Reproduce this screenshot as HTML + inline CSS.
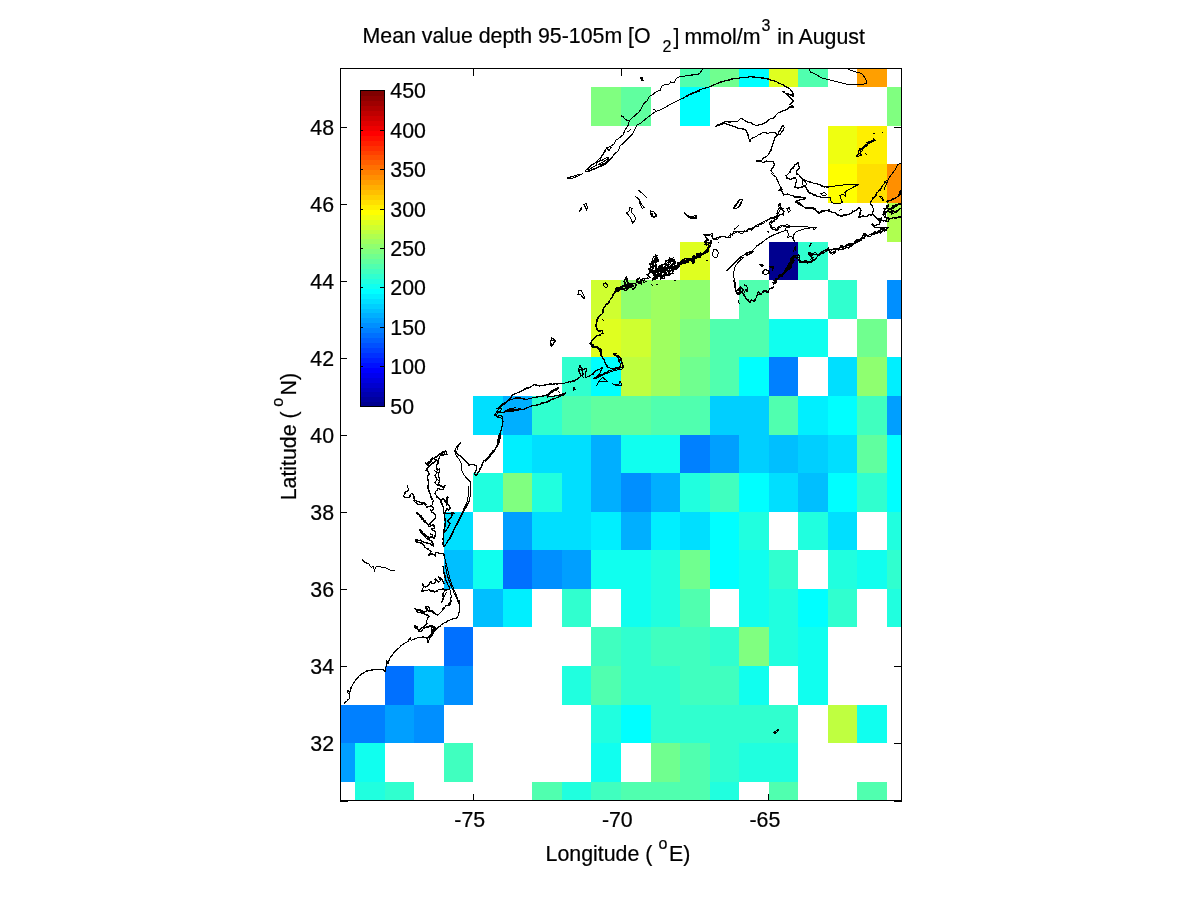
<!DOCTYPE html>
<html><head><meta charset="utf-8"><title>Mean value depth 95-105m O2 in August</title>
<style>
html,body{margin:0;padding:0;background:#fff;}
body{width:1200px;height:900px;overflow:hidden;}
svg{display:block;}
svg text{font-family:"Liberation Sans",Arial,Helvetica,sans-serif;font-size:21.33px;fill:#000;stroke:#000;stroke-width:0.22px;}
</style></head><body>
<svg width="1200" height="900" viewBox="0 0 1200 900">
<rect x="0" y="0" width="1200" height="900" fill="#fff"/>
<g stroke="#000" stroke-width="1" fill="none" shape-rendering="crispEdges">
<line x1="473.5" y1="800.5" x2="473.5" y2="793.5"/>
<line x1="473.5" y1="68.5" x2="473.5" y2="75.5"/>
<line x1="621.5" y1="800.5" x2="621.5" y2="793.5"/>
<line x1="621.5" y1="68.5" x2="621.5" y2="75.5"/>
<line x1="768.5" y1="800.5" x2="768.5" y2="793.5"/>
<line x1="768.5" y1="68.5" x2="768.5" y2="75.5"/>
<line x1="340.5" y1="743.5" x2="346.5" y2="743.5"/>
<line x1="901.5" y1="743.5" x2="893.5" y2="743.5"/>
<line x1="340.5" y1="666.5" x2="346.5" y2="666.5"/>
<line x1="901.5" y1="666.5" x2="893.5" y2="666.5"/>
<line x1="340.5" y1="589.5" x2="346.5" y2="589.5"/>
<line x1="901.5" y1="589.5" x2="893.5" y2="589.5"/>
<line x1="340.5" y1="512.5" x2="346.5" y2="512.5"/>
<line x1="901.5" y1="512.5" x2="893.5" y2="512.5"/>
<line x1="340.5" y1="435.5" x2="346.5" y2="435.5"/>
<line x1="901.5" y1="435.5" x2="893.5" y2="435.5"/>
<line x1="340.5" y1="358.5" x2="346.5" y2="358.5"/>
<line x1="901.5" y1="358.5" x2="893.5" y2="358.5"/>
<line x1="340.5" y1="281.5" x2="346.5" y2="281.5"/>
<line x1="901.5" y1="281.5" x2="893.5" y2="281.5"/>
<line x1="340.5" y1="204.5" x2="346.5" y2="204.5"/>
<line x1="901.5" y1="204.5" x2="893.5" y2="204.5"/>
<line x1="340.5" y1="127.5" x2="346.5" y2="127.5"/>
<line x1="901.5" y1="127.5" x2="893.5" y2="127.5"/>
<line x1="340" y1="801.5" x2="348" y2="801.5"/><line x1="894" y1="801.5" x2="902" y2="801.5"/>
</g>
<g shape-rendering="crispEdges">
<rect x="680" y="69" width="30" height="18" fill="#50ffaf"/>
<rect x="710" y="69" width="29" height="18" fill="#70ff8f"/>
<rect x="739" y="69" width="30" height="18" fill="#00ffff"/>
<rect x="769" y="69" width="29" height="18" fill="#dfff20"/>
<rect x="798" y="69" width="30" height="18" fill="#50ffaf"/>
<rect x="857" y="69" width="30" height="18" fill="#ff9f00"/>
<rect x="591" y="87" width="30" height="39" fill="#80ff80"/>
<rect x="621" y="87" width="30" height="39" fill="#60ff9f"/>
<rect x="680" y="87" width="30" height="39" fill="#00ffff"/>
<rect x="887" y="87" width="14" height="39" fill="#80ff80"/>
<rect x="828" y="126" width="29" height="38" fill="#efff10"/>
<rect x="857" y="126" width="30" height="38" fill="#ffef00"/>
<rect x="828" y="164" width="29" height="39" fill="#ffff00"/>
<rect x="857" y="164" width="30" height="39" fill="#ffdf00"/>
<rect x="887" y="164" width="14" height="39" fill="#ff8f00"/>
<rect x="887" y="203" width="14" height="39" fill="#afff50"/>
<rect x="680" y="242" width="30" height="38" fill="#dfff20"/>
<rect x="769" y="242" width="29" height="38" fill="#00008f"/>
<rect x="798" y="242" width="30" height="38" fill="#30ffcf"/>
<rect x="591" y="280" width="30" height="39" fill="#cfff30"/>
<rect x="621" y="280" width="30" height="39" fill="#8fff70"/>
<rect x="651" y="280" width="29" height="39" fill="#9fff60"/>
<rect x="680" y="280" width="30" height="39" fill="#8fff70"/>
<rect x="739" y="280" width="30" height="39" fill="#50ffaf"/>
<rect x="828" y="280" width="29" height="39" fill="#30ffcf"/>
<rect x="887" y="280" width="14" height="39" fill="#008fff"/>
<rect x="591" y="319" width="30" height="38" fill="#dfff20"/>
<rect x="621" y="319" width="30" height="38" fill="#cfff30"/>
<rect x="651" y="319" width="29" height="38" fill="#9fff60"/>
<rect x="680" y="319" width="30" height="38" fill="#80ff80"/>
<rect x="710" y="319" width="29" height="38" fill="#50ffaf"/>
<rect x="739" y="319" width="30" height="38" fill="#50ffaf"/>
<rect x="769" y="319" width="29" height="38" fill="#10ffef"/>
<rect x="798" y="319" width="30" height="38" fill="#10ffef"/>
<rect x="857" y="319" width="30" height="38" fill="#70ff8f"/>
<rect x="562" y="357" width="29" height="39" fill="#30ffcf"/>
<rect x="591" y="357" width="30" height="39" fill="#00ffff"/>
<rect x="621" y="357" width="30" height="39" fill="#bfff40"/>
<rect x="651" y="357" width="29" height="39" fill="#9fff60"/>
<rect x="680" y="357" width="30" height="39" fill="#70ff8f"/>
<rect x="710" y="357" width="29" height="39" fill="#50ffaf"/>
<rect x="739" y="357" width="30" height="39" fill="#00ffff"/>
<rect x="769" y="357" width="29" height="39" fill="#0080ff"/>
<rect x="828" y="357" width="29" height="39" fill="#00dfff"/>
<rect x="857" y="357" width="30" height="39" fill="#8fff70"/>
<rect x="887" y="357" width="14" height="39" fill="#00efff"/>
<rect x="473" y="396" width="30" height="39" fill="#00dfff"/>
<rect x="503" y="396" width="29" height="39" fill="#00afff"/>
<rect x="532" y="396" width="30" height="39" fill="#30ffcf"/>
<rect x="562" y="396" width="29" height="39" fill="#50ffaf"/>
<rect x="591" y="396" width="30" height="39" fill="#60ff9f"/>
<rect x="621" y="396" width="30" height="39" fill="#60ff9f"/>
<rect x="651" y="396" width="29" height="39" fill="#50ffaf"/>
<rect x="680" y="396" width="30" height="39" fill="#50ffaf"/>
<rect x="710" y="396" width="29" height="39" fill="#00cfff"/>
<rect x="739" y="396" width="30" height="39" fill="#00cfff"/>
<rect x="769" y="396" width="29" height="39" fill="#50ffaf"/>
<rect x="798" y="396" width="30" height="39" fill="#00efff"/>
<rect x="828" y="396" width="29" height="39" fill="#00ffff"/>
<rect x="857" y="396" width="30" height="39" fill="#40ffbf"/>
<rect x="887" y="396" width="14" height="39" fill="#009fff"/>
<rect x="503" y="435" width="29" height="38" fill="#00efff"/>
<rect x="532" y="435" width="30" height="38" fill="#00dfff"/>
<rect x="562" y="435" width="29" height="38" fill="#00dfff"/>
<rect x="591" y="435" width="30" height="38" fill="#00afff"/>
<rect x="621" y="435" width="30" height="38" fill="#10ffef"/>
<rect x="651" y="435" width="29" height="38" fill="#10ffef"/>
<rect x="680" y="435" width="30" height="38" fill="#0080ff"/>
<rect x="710" y="435" width="29" height="38" fill="#009fff"/>
<rect x="739" y="435" width="30" height="38" fill="#00cfff"/>
<rect x="769" y="435" width="29" height="38" fill="#00bfff"/>
<rect x="798" y="435" width="30" height="38" fill="#00cfff"/>
<rect x="828" y="435" width="29" height="38" fill="#00dfff"/>
<rect x="857" y="435" width="30" height="38" fill="#60ff9f"/>
<rect x="887" y="435" width="14" height="38" fill="#00ffff"/>
<rect x="473" y="473" width="30" height="39" fill="#20ffdf"/>
<rect x="503" y="473" width="29" height="39" fill="#80ff80"/>
<rect x="532" y="473" width="30" height="39" fill="#20ffdf"/>
<rect x="562" y="473" width="29" height="39" fill="#00dfff"/>
<rect x="591" y="473" width="30" height="39" fill="#00afff"/>
<rect x="621" y="473" width="30" height="39" fill="#008fff"/>
<rect x="651" y="473" width="29" height="39" fill="#00afff"/>
<rect x="680" y="473" width="30" height="39" fill="#20ffdf"/>
<rect x="710" y="473" width="29" height="39" fill="#40ffbf"/>
<rect x="739" y="473" width="30" height="39" fill="#00ffff"/>
<rect x="769" y="473" width="29" height="39" fill="#00dfff"/>
<rect x="798" y="473" width="30" height="39" fill="#00bfff"/>
<rect x="828" y="473" width="29" height="39" fill="#00ffff"/>
<rect x="857" y="473" width="30" height="39" fill="#30ffcf"/>
<rect x="887" y="473" width="14" height="39" fill="#00ffff"/>
<rect x="444" y="512" width="29" height="38" fill="#00dfff"/>
<rect x="503" y="512" width="29" height="38" fill="#009fff"/>
<rect x="532" y="512" width="30" height="38" fill="#00dfff"/>
<rect x="562" y="512" width="29" height="38" fill="#00dfff"/>
<rect x="591" y="512" width="30" height="38" fill="#00efff"/>
<rect x="621" y="512" width="30" height="38" fill="#00afff"/>
<rect x="651" y="512" width="29" height="38" fill="#00efff"/>
<rect x="680" y="512" width="30" height="38" fill="#00dfff"/>
<rect x="710" y="512" width="29" height="38" fill="#00ffff"/>
<rect x="739" y="512" width="30" height="38" fill="#20ffdf"/>
<rect x="798" y="512" width="30" height="38" fill="#20ffdf"/>
<rect x="828" y="512" width="29" height="38" fill="#00dfff"/>
<rect x="887" y="512" width="14" height="38" fill="#20ffdf"/>
<rect x="444" y="550" width="29" height="39" fill="#00bfff"/>
<rect x="473" y="550" width="30" height="39" fill="#10ffef"/>
<rect x="503" y="550" width="29" height="39" fill="#0070ff"/>
<rect x="532" y="550" width="30" height="39" fill="#008fff"/>
<rect x="562" y="550" width="29" height="39" fill="#009fff"/>
<rect x="591" y="550" width="30" height="39" fill="#10ffef"/>
<rect x="621" y="550" width="30" height="39" fill="#10ffef"/>
<rect x="651" y="550" width="29" height="39" fill="#20ffdf"/>
<rect x="680" y="550" width="30" height="39" fill="#70ff8f"/>
<rect x="710" y="550" width="29" height="39" fill="#00ffff"/>
<rect x="739" y="550" width="30" height="39" fill="#10ffef"/>
<rect x="769" y="550" width="29" height="39" fill="#30ffcf"/>
<rect x="828" y="550" width="29" height="39" fill="#20ffdf"/>
<rect x="857" y="550" width="30" height="39" fill="#10ffef"/>
<rect x="887" y="550" width="14" height="39" fill="#30ffcf"/>
<rect x="473" y="589" width="30" height="38" fill="#00bfff"/>
<rect x="503" y="589" width="29" height="38" fill="#00efff"/>
<rect x="562" y="589" width="29" height="38" fill="#30ffcf"/>
<rect x="621" y="589" width="30" height="38" fill="#10ffef"/>
<rect x="651" y="589" width="29" height="38" fill="#20ffdf"/>
<rect x="680" y="589" width="30" height="38" fill="#50ffaf"/>
<rect x="739" y="589" width="30" height="38" fill="#10ffef"/>
<rect x="769" y="589" width="29" height="38" fill="#20ffdf"/>
<rect x="798" y="589" width="30" height="38" fill="#00ffff"/>
<rect x="828" y="589" width="29" height="38" fill="#30ffcf"/>
<rect x="887" y="589" width="14" height="38" fill="#20ffdf"/>
<rect x="444" y="627" width="29" height="39" fill="#0070ff"/>
<rect x="591" y="627" width="30" height="39" fill="#40ffbf"/>
<rect x="621" y="627" width="30" height="39" fill="#30ffcf"/>
<rect x="651" y="627" width="29" height="39" fill="#40ffbf"/>
<rect x="680" y="627" width="30" height="39" fill="#40ffbf"/>
<rect x="710" y="627" width="29" height="39" fill="#30ffcf"/>
<rect x="739" y="627" width="30" height="39" fill="#80ff80"/>
<rect x="769" y="627" width="29" height="39" fill="#20ffdf"/>
<rect x="798" y="627" width="30" height="39" fill="#10ffef"/>
<rect x="385" y="666" width="29" height="39" fill="#0070ff"/>
<rect x="414" y="666" width="30" height="39" fill="#00bfff"/>
<rect x="444" y="666" width="29" height="39" fill="#008fff"/>
<rect x="562" y="666" width="29" height="39" fill="#20ffdf"/>
<rect x="591" y="666" width="30" height="39" fill="#50ffaf"/>
<rect x="621" y="666" width="30" height="39" fill="#30ffcf"/>
<rect x="651" y="666" width="29" height="39" fill="#30ffcf"/>
<rect x="680" y="666" width="30" height="39" fill="#40ffbf"/>
<rect x="710" y="666" width="29" height="39" fill="#40ffbf"/>
<rect x="739" y="666" width="30" height="39" fill="#10ffef"/>
<rect x="798" y="666" width="30" height="39" fill="#10ffef"/>
<rect x="341" y="705" width="14" height="38" fill="#0080ff"/>
<rect x="355" y="705" width="30" height="38" fill="#0080ff"/>
<rect x="385" y="705" width="29" height="38" fill="#009fff"/>
<rect x="414" y="705" width="30" height="38" fill="#008fff"/>
<rect x="591" y="705" width="30" height="38" fill="#20ffdf"/>
<rect x="621" y="705" width="30" height="38" fill="#00ffff"/>
<rect x="651" y="705" width="29" height="38" fill="#30ffcf"/>
<rect x="680" y="705" width="30" height="38" fill="#30ffcf"/>
<rect x="710" y="705" width="29" height="38" fill="#30ffcf"/>
<rect x="739" y="705" width="30" height="38" fill="#30ffcf"/>
<rect x="769" y="705" width="29" height="38" fill="#30ffcf"/>
<rect x="828" y="705" width="29" height="38" fill="#bfff40"/>
<rect x="857" y="705" width="30" height="38" fill="#10ffef"/>
<rect x="341" y="743" width="14" height="39" fill="#009fff"/>
<rect x="355" y="743" width="30" height="39" fill="#10ffef"/>
<rect x="444" y="743" width="29" height="39" fill="#40ffbf"/>
<rect x="591" y="743" width="30" height="39" fill="#10ffef"/>
<rect x="651" y="743" width="29" height="39" fill="#70ff8f"/>
<rect x="680" y="743" width="30" height="39" fill="#50ffaf"/>
<rect x="710" y="743" width="29" height="39" fill="#30ffcf"/>
<rect x="739" y="743" width="30" height="39" fill="#20ffdf"/>
<rect x="769" y="743" width="29" height="39" fill="#20ffdf"/>
<rect x="355" y="782" width="30" height="18" fill="#20ffdf"/>
<rect x="385" y="782" width="29" height="18" fill="#30ffcf"/>
<rect x="532" y="782" width="30" height="18" fill="#50ffaf"/>
<rect x="562" y="782" width="29" height="18" fill="#20ffdf"/>
<rect x="591" y="782" width="30" height="18" fill="#40ffbf"/>
<rect x="621" y="782" width="30" height="18" fill="#50ffaf"/>
<rect x="651" y="782" width="29" height="18" fill="#50ffaf"/>
<rect x="680" y="782" width="30" height="18" fill="#50ffaf"/>
<rect x="710" y="782" width="29" height="18" fill="#20ffdf"/>
<rect x="769" y="782" width="29" height="18" fill="#50ffaf"/>
<rect x="857" y="782" width="30" height="18" fill="#50ffaf"/>
</g>
<clipPath id="axclip"><rect x="341" y="69" width="560" height="731"/></clipPath><path clip-path="url(#axclip)" shape-rendering="crispEdges" fill="none" stroke="#000" stroke-width="1" stroke-linejoin="round" stroke-linecap="round" d="M344.1,703.8 349.3,698.6 349.3,693.9 347.2,692.2 347.9,690.4 349.9,692.2 351.7,686.3 355.2,680.5 360.4,674.7 366.8,671.2 373.8,669.4 383.2,669.4 385.3,671.8 385.7,668.3 386.7,663.9 386.0,659.7 386.9,661.8 388.1,663.6 390.2,657.4 394.8,651.6 400.7,646.3 403.6,643.8 407.7,641.4 410.4,637.6 411.2,640.3 417.0,637.9 423.1,636.8 427.3,638.7 427.9,642.9 429.4,638.5 432.2,634.1 436.8,629.2 441.5,624.7 447.3,621.2 453.2,618.7 457.8,617.5 459.0,611.7 459.6,605.8 459.0,600.0M344.0,703.7 345.1,702.3 346.8,701.3 347.7,699.6 349.4,698.6 349.2,696.3 349.1,694.3 347.2,692.2 348.2,690.1 349.9,692.2 350.1,690.1 350.7,688.2 351.6,686.3 352.8,685.0 353.1,683.2 354.1,681.8 355.3,680.6 356.8,679.3 357.8,677.6 359.0,676.1 360.6,675.1 361.8,673.4 363.8,673.2 365.1,671.9 366.7,670.8 368.5,670.4 370.3,670.1 372.2,670.2 373.8,669.1 375.7,669.5 377.6,669.6 379.4,669.3 381.3,669.5 383.5,669.1 384.8,671.7 385.2,670.0 385.9,668.3 386.1,666.1 386.5,664.0 386.4,661.8 386.0,659.7 387.1,661.7 388.3,663.7 388.8,662.1 388.9,660.4 389.7,659.0 390.2,657.4 391.6,656.2 392.7,654.6 393.5,652.9 395.2,651.9 396.0,650.0 397.7,648.9 399.4,647.8 400.4,646.1 402.1,645.0 403.4,643.4 405.7,642.7 407.9,641.6 409.1,639.5 410.0,637.7 411.1,640.1 413.2,639.7 415.1,638.8 417.0,638.0 419.0,637.5 421.1,637.5 422.9,637.2 425.2,637.7 427.1,638.8 428.0,640.8 428.0,643.0 428.8,640.8 429.8,638.8 430.6,637.2 431.1,635.4 432.1,634.0 433.5,633.0 434.2,631.3 435.6,630.4 436.6,628.9 437.7,627.8 438.9,626.6 440.5,626.0 441.3,624.4 442.8,623.6 444.4,622.9 446.1,622.4 447.2,620.9 449.3,620.3 451.2,619.6 453.3,619.0 454.8,618.6 456.4,618.2 457.6,617.5 458.1,615.5 458.5,613.6 459.4,611.7 459.7,609.8 459.0,607.7 459.3,605.9 459.1,603.9 458.9,602.0 459.0,600.0M452.0,600.0 449.7,604.7 446.2,605.3 442.7,610.5 439.2,614.0 435.7,614.9 433.3,611.9 429.8,610.7 428.9,606.8 425.2,607.0 426.9,610.5 424.0,611.9 420.5,609.9 414.9,608.8 417.2,611.7 421.7,613.1 426.3,615.2 429.4,616.3 427.0,619.8 426.6,623.3 421.7,628.2 419.6,630.6 414.9,625.1 414.9,628.0 420.5,631.2 424.0,628.2 428.7,626.8 430.1,625.1 433.3,628.0 435.9,628.0 433.6,631.5 432.4,635.0 429.8,638.5M452.0,600.0 451.1,601.5 450.9,603.3 449.8,605.6 447.9,605.1 446.4,605.4 444.9,606.9 443.1,608.2 442.4,610.2 441.5,611.6 440.2,612.7 439.1,613.7 437.7,615.3 436.3,614.4 434.9,613.1 433.6,611.2 431.8,610.8 429.6,610.8 429.2,608.8 429.0,607.6 427.0,606.6 426.0,606.6 426.8,608.4 427.2,611.0 425.8,611.8 423.8,612.2 421.8,611.7 420.3,610.9 418.5,610.2 416.6,609.9 415.1,608.6 416.8,609.6 417.0,612.4 419.4,612.6 422.0,612.4 423.4,613.3 424.9,614.2 426.4,614.9 428.1,615.0 428.8,615.9 427.4,617.5 427.1,619.8 426.8,621.6 427.2,623.9 425.9,625.1 424.3,626.0 423.2,627.3 421.2,627.8 419.1,631.0 417.7,629.8 417.9,627.2 416.1,626.4 415.6,625.1 414.9,628.1 416.8,628.0 417.7,629.6 418.6,631.2 421.0,631.7 422.5,630.0 423.9,627.8 425.5,627.5 426.9,626.7 429.1,627.2 430.0,625.1 431.3,627.0 433.3,627.7 436.4,628.3 434.2,629.4 432.7,631.2 432.3,633.0 431.9,634.6 430.6,636.4 429.8,638.5M425.8,607.6 427.5,608.8 428.7,611.1 432.2,611.7 433.9,614.0M429.8,625.1 432.2,626.3 435.1,627.4 433.3,629.8 431.0,629.2 432.2,632.1 430.4,635.0 428.7,637.3 425.8,637.9 423.4,637.1M429.6,625.5 432.4,625.7 435.1,627.4 433.3,630.0 431.9,628.8 433.0,632.6 431.7,633.8 430.8,635.3 428.6,637.0 426.1,637.1 423.4,637.1M469.8,500.0 466.3,507.0 461.7,515.2 455.8,526.8 450.0,538.5 444.2,546.7M468.1,502.9 464.0,508.2 460.5,516.9 454.7,527.4 448.8,539.7 444.8,546.1M466.3,503.5 462.3,512.8 457.0,523.3 451.8,533.8 446.5,543.2M440.7,500.0 443.0,505.8 443.6,511.7 445.3,519.8 444.8,528.0 443.6,535.0 443.0,540.8 443.9,546.7M440.7,500.0 440.8,502.2 441.5,504.2 442.3,505.9 443.4,507.8 443.8,509.7 444.0,511.6 444.4,513.2 444.7,514.8 444.4,516.6 444.4,518.3 444.8,519.8 445.3,521.5 444.9,523.1 444.5,524.7 445.5,526.4 444.5,528.0 443.8,529.6 443.7,531.4 443.5,533.2 443.6,535.0 443.9,537.0 442.7,538.8 443.3,540.8 442.8,542.9 442.9,544.8 443.9,546.7M444.2,501.2 447.7,503.5 450.0,507.0 448.8,510.5 446.5,508.2 445.3,512.8 450.0,514.0 453.5,512.8 451.2,517.5 447.7,521.0 450.0,523.3 447.7,528.0 445.3,531.5M444.3,501.0 446.0,502.2 447.1,503.9 448.5,505.4 450.5,507.2 450.0,508.9 448.4,510.9 448.1,508.9 446.0,508.0 446.7,509.9 445.2,511.2 445.2,513.6 446.8,513.5 448.5,513.4 450.0,514.1 451.6,512.9 454.2,513.2 452.1,514.1 451.7,515.8 451.1,517.5 449.5,518.2 448.9,519.9 447.2,521.4 448.5,522.5 450.4,523.5 449.6,525.1 448.7,526.6 448.0,528.2 446.4,529.7 445.3,531.5M413.8,500.0 415.0,502.3 419.7,504.7 424.3,503.5 426.7,507.0 431.3,505.8 433.7,509.3 430.2,510.5 436.0,515.2 434.8,518.7 428.4,525.1 417.3,512.3 416.2,512.3 426.7,523.3 429.0,526.3 433.7,525.1 434.3,528.0 431.3,529.2 436.0,532.7 434.8,538.5 431.3,536.2 429.0,538.5 419.7,529.8 419.1,530.3 427.8,539.7 431.3,540.8 433.7,546.7 431.3,544.3 426.7,543.2 420.8,540.3 415.0,539.7 417.3,542.0 423.2,544.3 426.7,549.0 431.3,551.3 428.4,554.8 432.5,553.7 434.8,556.0 436.0,552.5 440.7,553.7 443.6,553.1 444.2,556.0M414.2,499.8 415.1,502.2 416.9,502.5 417.8,504.5 419.6,504.4 421.2,504.2 422.8,504.0 423.7,503.9 425.6,505.2 426.9,507.7 428.2,506.6 429.8,506.3 431.3,505.9 433.2,507.1 433.7,509.4 432.1,510.5 430.7,509.8 431.3,512.1 433.5,512.4 434.6,514.0 435.6,515.0 435.3,516.9 435.1,518.9 433.5,519.9 432.2,521.2 430.6,522.2 430.2,524.3 428.5,525.0 427.0,524.1 425.9,522.8 425.5,520.9 424.0,519.9 423.0,518.6 422.1,517.1 421.2,515.6 419.5,514.9 418.6,513.4 417.3,512.2 416.2,512.3 417.1,513.7 418.6,514.7 419.6,516.0 420.9,517.1 421.4,519.0 422.9,519.9 423.8,521.3 424.9,522.7 427.0,523.1 427.8,524.9 429.2,527.0 430.7,526.5 432.0,524.8 434.3,525.0 434.3,528.1 431.8,528.6 433.2,530.0 434.9,530.9 435.7,532.6 435.1,534.5 434.5,536.4 434.5,539.0 433.3,537.0 431.1,536.0 430.6,537.8 429.5,538.0 428.2,536.6 426.0,536.4 425.6,534.2 423.5,533.6 422.3,532.3 421.6,530.4 419.2,529.3 419.5,529.9 420.4,531.6 421.6,533.0 423.0,534.1 424.5,535.3 425.6,536.8 426.3,538.6 428.1,538.8 429.6,540.3 431.4,540.8 432.9,542.5 433.2,544.6 433.8,546.5 432.5,545.5 431.1,545.1 430.0,543.1 428.4,543.1 427.0,542.4 424.9,543.1 423.6,542.1 421.9,541.7 420.9,539.8 418.8,540.5 416.9,540.5 415.1,539.6 415.6,541.4 417.1,542.5 419.4,542.4 421.5,543.0 422.6,544.8 424.2,546.0 425.2,547.7 427.0,548.3 428.6,549.1 429.6,550.9 431.4,551.4 430.5,553.6 428.6,555.6 430.5,554.5 432.1,554.1 434.2,554.3 435.4,556.2 434.7,554.0 435.8,553.1 437.6,552.8 439.2,553.0 440.7,553.8 442.8,553.2 444.2,556.0M430.2,533.8 432.5,535.0 431.3,537.3 433.7,538.5M443.9,553.7 445.3,560.7 447.7,570.0 450.0,579.3 453.5,588.7 457.0,596.8 459.9,605.0M443.0,566.5 443.6,572.3 445.3,579.3 448.8,586.3 450.0,588.7 446.5,589.8 443.0,588.7 438.3,589.8 434.8,592.2 429.0,589.8 424.3,591.0 421.4,591.0 423.2,587.5 422.6,584.0 424.9,586.9 429.0,585.2 430.2,581.7 432.5,584.0 436.0,581.7 434.8,579.3 438.3,581.7 440.7,580.5 438.3,577.0 441.8,579.3 444.2,584.0M443.4,566.5 443.9,568.4 443.3,570.4 444.0,572.2 444.7,573.9 445.1,575.7 445.7,577.4 445.8,579.1 446.5,580.9 447.4,582.7 447.5,584.8 449.2,586.2 450.0,588.7 448.4,589.8 446.4,590.1 444.5,590.1 443.1,589.1 441.7,589.9 439.8,589.0 438.3,589.8 436.9,591.5 434.8,592.2 433.2,590.7 430.7,591.3 428.9,589.3 427.5,590.3 425.9,590.6 424.3,590.4 421.2,590.9 422.3,589.3 423.5,587.4 423.7,585.6 422.8,583.8 423.3,585.8 425.1,587.3 427.1,586.3 428.8,585.1 429.3,583.3 430.7,581.1 431.8,582.4 432.1,583.4 434.5,583.2 435.6,581.9 435.2,578.8 437.0,579.9 438.6,582.2 441.2,580.1 439.8,578.6 438.6,576.7 440.3,577.8 442.2,579.2 442.7,580.9 443.9,582.2 444.2,584.0M445.3,589.8 443.0,593.3 443.6,599.2 441.8,602.7 444.2,596.8 446.5,592.2M445.4,589.9 444.5,591.8 442.3,593.4 442.4,595.4 443.3,597.2 444.0,599.4 442.0,600.6 441.6,602.6 442.4,600.6 442.7,598.5 444.0,596.8 444.9,595.3 445.7,593.7 446.5,592.2M450.0,589.8 451.2,595.7 450.6,601.5 448.8,603.8M454.7,593.3 457.0,599.2 459.3,605.0M445.3,565.3 447.1,574.7 449.4,581.7 452.3,588.7 455.3,595.7M362.5,560.0 365.0,562.5 368.8,563.8 371.2,567.5 373.8,566.2 374.2,571.2 376.2,566.2 381.2,567.0 386.2,568.0 390.0,570.0 394.5,570.8M494.9,415.2 497.8,416.3 501.3,415.2 502.5,417.5 502.5,421.0 501.9,426.8 500.2,433.8 498.4,439.7 496.7,446.7 492.0,452.5 487.3,458.3 483.8,460.7 482.7,464.2 479.2,471.2 476.3,475.3 474.5,474.7 476.3,470.0 476.8,466.5 473.3,464.2 469.3,464.8 464.0,459.5 460.5,456.0 457.0,453.7 456.4,451.3 454.7,450.2 457.6,445.5 460.5,442.6 458.2,446.7 457.0,450.2M495.1,414.8 497.8,416.3 499.4,415.2 501.6,415.0 503.0,417.5 502.6,419.3 503.1,421.1 502.9,423.0 502.4,424.9 502.2,426.9 501.4,428.6 501.0,430.3 500.3,432.0 500.0,433.8 499.3,435.7 498.6,437.6 498.6,439.7 498.2,441.5 497.0,443.0 497.5,445.0 496.5,446.5 495.4,448.0 494.8,449.9 492.9,450.8 491.6,452.2 490.7,453.9 489.5,455.2 488.2,456.6 487.6,458.7 485.6,459.5 483.8,460.7 482.9,462.3 482.3,464.0 481.4,465.7 480.8,467.6 479.6,469.2 479.0,471.0 478.0,472.4 477.5,474.1 476.1,475.8 474.1,474.5 474.9,473.1 475.2,471.4 476.7,470.1 476.6,468.3 476.9,466.4 475.2,465.2 473.3,464.0 471.3,464.5 468.8,465.2 468.2,463.2 466.8,461.9 465.3,460.8 464.0,459.5 463.0,458.2 461.3,457.5 460.7,455.8 458.6,455.1 456.5,453.8 456.3,451.6 454.9,450.3 455.3,448.4 456.9,447.2 458.0,445.9 459.0,444.0 460.6,442.7 459.4,444.6 458.0,446.6 457.3,448.3 457.0,450.2M500.8,435.0 499.0,443.2 494.3,451.3 488.5,458.3 485.0,461.3M454.7,450.2 455.8,454.8 459.3,459.5 461.7,464.2 461.7,470.0 464.0,474.7 467.5,479.3 470.4,481.7 471.0,486.3 470.4,493.3 469.8,499.2 467.5,505.0M468.1,486.3 468.7,493.3 466.9,502.7M446.5,451.3 443.0,451.3 440.7,454.8 438.3,459.5 436.6,465.3 437.2,470.0 440.1,468.8 438.3,474.7 439.5,480.5 438.3,484.0 440.7,486.3 443.6,487.5 445.3,485.8 443.0,489.8 438.3,488.7 436.0,491.0 434.8,493.3 437.2,496.8 440.7,500.3 443.0,498.0 445.3,501.5 447.7,496.8 446.5,505.0M446.5,451.1 444.8,451.1 443.7,451.8 442.4,453.5 441.1,455.1 439.5,456.2 439.5,458.1 438.2,459.5 438.7,461.7 438.0,463.6 437.0,465.3 436.5,467.7 437.3,470.4 439.7,468.7 439.9,470.9 438.9,472.7 438.4,474.7 438.8,476.6 439.9,478.4 438.8,480.3 439.5,482.4 437.7,484.7 438.9,485.8 441.0,485.4 443.5,487.4 444.8,485.4 443.4,487.3 443.0,489.9 441.3,489.9 439.8,489.6 437.7,488.0 437.6,490.2 435.9,490.9 435.4,492.9 436.0,495.1 436.5,497.5 438.9,497.5 439.1,499.6 440.7,500.4 442.4,499.7 442.7,498.2 444.6,499.5 446.0,501.9 446.1,499.9 446.0,498.0 448.7,497.0 447.5,498.5 447.3,500.1 447.4,501.8 447.4,503.5 446.5,505.0M424.9,463.0 427.8,465.3 431.3,460.7 434.8,457.2 437.2,456.0 441.8,452.5 445.3,450.8 447.1,454.8 444.2,453.7 440.7,456.0M425.1,462.8 426.6,463.9 428.4,465.7 428.2,463.2 430.6,462.5 431.8,461.1 432.0,459.0 434.3,458.9 435.0,457.6 437.7,456.6 438.5,454.5 440.1,453.5 441.7,452.3 444.0,452.5 445.2,450.8 446.5,452.7 447.0,455.0 444.4,454.0 442.9,455.6 440.7,456.0M426.1,463.6 429.0,461.8 432.5,458.3 436.0,459.5 433.7,463.0 430.2,465.3 426.7,470.0 429.0,472.3 427.8,477.0 428.4,481.7 427.8,486.3 429.0,492.2 431.3,496.8 433.1,500.3 432.5,505.0M425.7,462.9 427.9,463.3 428.7,461.5 430.8,461.3 431.0,459.1 432.7,457.9 434.2,458.9 436.5,459.8 435.0,461.4 433.2,462.2 431.5,463.5 429.7,465.0 428.8,466.7 427.2,468.0 426.0,470.6 427.8,471.2 428.6,472.2 429.5,474.1 427.8,475.3 427.9,477.0 427.6,479.4 428.1,481.6 428.6,484.1 428.7,486.2 427.4,488.4 429.3,490.1 429.1,492.1 430.1,493.6 430.9,495.1 430.9,497.1 431.4,499.0 433.6,500.4 432.5,502.6 432.5,505.0M433.7,470.0 437.2,472.3 434.8,475.8 437.2,479.3 434.8,482.8 437.2,485.2M407.4,485.8 408.6,489.8 405.1,492.2 403.9,495.7 405.1,498.0 408.6,497.4 411.5,493.3 413.3,495.7 414.4,500.3 417.3,501.5 420.8,502.7 424.3,502.7 426.7,505.0M407.7,485.7 407.9,487.8 408.7,490.0 407.1,491.4 405.6,492.3 404.9,494.1 403.3,496.0 405.1,498.0 406.8,497.3 409.1,497.8 410.2,496.5 410.5,494.7 412.0,493.0 413.7,495.6 414.3,497.1 414.3,498.7 414.7,499.7 417.5,501.1 419.2,501.7 420.8,502.8 422.6,503.3 424.1,503.0 425.6,503.7 426.7,505.0M497.0,408.8 501.7,405.3 507.5,400.7 513.3,394.8 520.3,391.3 528.5,387.8 534.3,384.9 539.0,385.5 544.8,384.9 550.7,384.3 555.3,383.8 560.0,383.2 562.3,383.8 567.0,382.6 574.0,380.8 578.7,378.5 581.0,376.2 579.8,372.7 578.7,369.2 579.8,365.1 581.0,368.0 583.3,369.2 586.3,368.6 585.7,373.8 585.1,377.3 589.2,376.8 592.7,373.8 595.0,371.5 599.7,369.2 602.6,367.4 600.8,371.5 599.7,373.8 596.2,377.3 593.8,378.5 598.5,376.2 603.2,373.8 607.8,371.5 612.5,369.8 618.3,368.6 621.8,367.4 623.0,368.0 622.4,363.3 620.7,358.7 617.8,355.2 613.7,354.6 616.6,355.8 618.9,358.7 620.1,363.3 620.7,366.8 616.0,368.0 611.3,368.6 607.8,366.8 605.5,363.3 603.2,358.7 600.8,355.2 599.7,350.5 597.3,347.0 593.8,345.8 590.3,343.5 592.7,340.0M496.9,408.7 498.6,407.7 500.0,406.4 501.5,405.2 502.7,403.7 504.4,402.8 506.5,402.3 507.1,400.3 508.7,399.5 510.0,398.5 511.4,397.5 511.9,395.7 513.2,394.5 514.9,393.6 516.8,393.0 518.6,392.1 520.6,391.9 522.2,391.1 523.8,390.4 525.0,388.6 526.6,387.9 528.6,388.1 530.2,387.6 531.4,386.3 532.9,385.8 534.4,384.2 536.7,385.1 539.1,386.1 541.0,385.8 542.9,385.6 544.9,385.6 546.7,384.4 548.7,384.0 550.6,383.9 553.0,384.1 555.4,384.0 557.7,384.1 559.9,383.5 562.4,384.0 564.0,383.7 565.4,382.9 567.0,382.7 568.6,381.5 570.6,382.1 572.2,380.9 574.3,381.4 575.7,380.2 577.0,379.0 578.3,378.1 579.6,377.1 581.2,376.1 580.7,374.3 579.3,372.8 578.7,371.1 578.7,369.2 579.4,367.2 580.0,365.0 581.2,367.7 583.4,369.3 586.9,368.7 586.3,370.4 585.9,372.1 585.0,373.7 585.2,375.6 585.2,377.9 587.1,377.0 588.9,376.5 590.7,375.0 593.1,374.3 594.0,372.9 594.9,371.3 596.3,370.1 598.1,369.9 599.8,369.4 601.1,368.2 602.9,367.6 601.5,369.4 600.3,371.2 599.9,374.1 599.0,375.5 597.5,376.3 596.2,377.4 594.0,378.7 595.2,377.3 597.1,377.3 598.7,376.5 600.1,375.4 601.4,374.2 603.5,374.4 604.6,372.8 606.5,372.7 607.7,371.1 609.3,370.6 611.1,370.7 612.4,369.5 614.6,370.0 616.4,369.0 618.2,368.2 620.0,367.6 621.9,367.3 623.2,368.0 623.3,365.6 622.0,363.5 621.7,361.8 620.9,360.4 621.2,358.2 618.8,357.2 617.7,355.8 615.6,355.5 613.7,354.4 616.2,356.1 617.3,357.5 618.6,358.7 618.6,360.4 619.1,361.9 620.3,363.3 620.8,365.0 620.5,366.2 619.0,366.9 617.7,368.2 616.0,367.8 613.7,368.5 611.3,368.7 609.5,367.9 607.5,367.1 606.1,365.5 605.2,363.5 604.5,361.9 604.5,359.9 602.7,359.0 602.5,356.6 600.4,355.3 600.3,353.7 600.5,351.9 600.0,350.3 598.4,348.8 597.1,347.6 595.6,346.5 593.7,346.0 592.4,344.2 590.0,343.3 591.3,341.6 592.7,340.0M579.8,369.2 582.2,370.3 582.2,375.0 583.3,377.3M582.2,369.2 583.3,375.0M595.0,379.1 600.8,376.2 606.7,373.3 613.7,370.6 621.3,369.2 623.0,368.6M597.9,382.0 602.6,377.3 607.3,381.4 604.3,382.0 599.7,381.4 597.3,383.8 596.8,386.1M611.9,383.2 616.0,385.5 621.8,385.5 620.1,380.8 618.9,384.3 615.4,384.9M574.0,386.7 575.2,389.6 573.8,390.2 574.0,386.7M495.8,414.7 498.2,412.9 502.8,412.3 506.3,411.2 511.0,411.2 518.0,410.0 525.0,408.8 529.7,406.5 536.7,404.8 543.7,403.0 550.7,400.1 556.5,397.8 562.3,395.4 565.8,393.1 560.0,394.8 555.3,396.0 550.7,396.0 547.2,397.2 548.3,394.8 551.8,392.5 555.3,390.2 558.3,388.4 555.3,389.0 550.7,391.3 547.2,394.8 543.7,396.0 536.7,397.2 529.7,398.3 526.2,399.5 520.3,397.8 514.5,398.3 508.7,400.7 502.8,405.3 498.2,408.8M496.2,415.1 498.1,412.3 500.5,412.5 503.0,412.8 504.7,412.1 506.3,410.5 508.7,410.5 510.9,410.6 512.8,411.5 514.4,410.3 516.3,410.6 518.1,410.6 519.7,409.5 521.4,409.1 523.4,409.8 525.1,409.0 526.4,407.8 528.2,407.6 529.6,406.3 531.3,405.8 533.0,405.0 535.0,405.5 536.8,405.3 538.5,404.5 540.3,404.5 541.8,402.8 543.5,402.7 545.4,402.2 547.4,402.1 549.2,401.4 550.6,399.9 552.5,399.0 554.5,398.4 556.5,397.7 558.7,397.5 560.2,395.8 562.6,395.8 564.3,394.5 565.7,392.7 563.8,393.3 561.9,394.1 560.1,395.1 558.5,395.5 556.9,395.8 555.3,395.6 553.0,396.6 550.8,396.4 548.8,396.3 546.9,397.0 548.0,394.3 549.7,393.1 551.9,392.6 553.5,391.1 555.7,390.7 557.1,389.8 558.1,387.7 555.5,389.3 554.0,390.3 552.5,391.1 550.7,391.3 549.3,392.3 548.4,393.7 547.3,395.2 545.5,395.5 543.6,395.8 541.9,396.1 540.1,396.2 538.3,396.4 536.6,396.9 535.0,398.0 533.1,397.3 531.5,398.3 529.6,398.2 528.0,399.1 526.3,399.2 524.1,399.3 522.2,398.7 520.4,398.1 518.4,398.4 516.4,397.6 514.5,398.2 512.6,399.3 510.7,400.0 508.2,400.1 507.2,401.8 506.0,403.3 504.0,403.8 502.7,405.2 500.9,406.0 500.1,408.1 498.2,408.8M558.3,391.3 560.0,393.1M507.5,410.0 513.3,409.4 520.3,408.8M505.2,410.6 509.8,408.8 515.7,407.7M494.7,414.7 497.0,417.0 501.7,418.2 502.8,421.7 501.7,428.7 499.9,433.3 498.2,436.8 499.3,441.5 498.2,445.0M494.7,414.7 498.2,410.0 499.3,406.5 497.0,408.8M498.2,407.7 501.7,408.8 500.5,411.2 497.0,412.3M498.8,435.7 497.6,440.3 499.9,442.7M550.7,340.0 555.3,341.2 553.0,344.7 551.3,345.8 550.7,340.0M601.3,355.0 600.7,350.3 597.2,346.8 592.5,346.8 589.6,343.3 591.9,341.0 594.8,337.5 598.3,335.2 603.0,333.4 602.4,330.5 598.3,331.1 596.6,327.0 596.0,324.7 597.2,320.0 599.5,315.9 603.0,313.0 603.6,308.3 605.3,305.4 608.8,303.1 610.6,299.0 612.9,296.1 614.7,292.0 615.8,288.5 620.5,286.8 625.2,285.0 624.0,281.5 626.9,276.8 626.9,281.5 629.8,283.8 634.5,283.3 636.8,285.0 633.3,288.5 629.8,287.3 626.3,290.3 621.7,289.7 617.0,290.8 614.7,293.2M601.2,355.0 601.6,352.6 601.2,349.9 600.1,348.6 597.7,348.7 597.2,347.3 594.8,347.6 592.0,347.2 591.8,344.5 589.7,343.5 591.4,342.8 591.7,340.8 593.9,339.7 594.8,337.4 596.3,335.9 598.5,335.7 600.2,335.4 601.2,333.3 603.2,333.4 602.4,330.3 600.5,331.4 598.1,331.2 596.8,329.3 596.0,327.1 595.5,324.6 596.6,323.2 597.1,321.6 596.7,319.7 597.5,317.5 599.3,315.7 601.5,314.7 602.4,312.9 602.9,310.6 603.1,308.0 605.0,307.2 605.4,305.5 606.6,303.5 608.1,302.8 609.5,301.0 610.7,299.1 612.0,297.7 612.2,295.8 613.2,293.8 615.0,292.1 615.1,290.2 615.7,288.1 617.3,287.6 619.3,288.2 620.4,286.4 622.1,286.3 623.5,285.3 625.0,285.1 625.3,283.0 624.8,282.0 624.7,279.8 625.4,278.1 626.5,276.8 627.5,279.2 627.5,280.7 627.9,283.3 629.8,283.7 632.3,284.2 634.6,283.1 636.3,284.5 635.7,286.2 635.0,287.8 633.0,289.4 631.6,287.8 629.7,287.1 627.6,288.2 626.2,291.1 624.0,289.7 621.7,289.9 620.1,290.0 618.7,291.1 617.3,291.1 615.8,292.0 614.7,293.2M590.2,343.3 593.7,344.5 592.5,346.8 594.8,347.4M614.7,292.0 618.2,288.5 621.7,287.3 624.0,289.1 627.5,286.2 631.0,287.3 633.3,285.0 628.7,285.0 624.0,286.2 620.5,288.5 617.0,290.3M615.6,292.9 615.0,290.0 617.0,289.6 618.5,289.4 620.4,289.2 622.2,286.6 623.3,288.2 626.6,288.6 627.1,287.5 629.3,286.7 630.1,286.4 633.1,287.1 633.3,285.3 631.0,283.8 628.6,284.7 626.9,284.4 625.8,286.8 623.5,285.5 622.7,288.0 620.6,288.8 618.3,288.4 617.0,290.3M636.8,282.7 639.2,278.0 641.5,281.5 645.0,279.2 648.5,276.8 649.7,271.0 650.8,265.2 654.3,261.7 656.7,258.2 655.5,254.7 657.8,259.3 655.5,264.0 656.7,268.7 653.2,273.3 654.9,278.0 657.8,273.3 660.2,269.8 661.3,278.0 663.7,274.5 666.0,272.2 663.7,267.5 667.2,262.8 671.8,258.2 674.2,261.7 671.8,265.2 675.3,267.5 680.0,266.3M638.1,283.3 636.4,280.5 637.3,279.0 639.5,277.8 640.3,279.8 641.2,281.1 642.3,279.0 644.4,278.2 647.3,278.8 650.2,277.2 646.9,274.5 649.6,273.0 650.8,271.2 648.1,268.7 651.9,267.4 649.6,264.0 652.3,264.3 653.3,263.0 654.8,262.0 654.8,259.4 656.3,258.3 656.4,256.3 655.8,254.5 655.7,256.5 657.3,257.7 658.1,259.5 658.9,261.8 655.8,262.2 655.6,264.0 657.0,265.3 655.2,267.4 655.7,267.9 655.7,270.3 655.5,272.6 653.3,273.3 655.4,274.3 655.9,275.9 654.7,277.8 654.4,275.5 656.7,274.8 657.9,273.4 657.3,270.5 659.6,269.9 662.2,271.2 659.6,273.2 659.7,274.9 661.1,276.4 659.7,276.9 662.5,276.3 663.3,274.1 666.2,274.7 664.6,272.9 666.6,269.9 666.4,268.1 664.5,268.1 665.9,266.8 664.9,263.6 668.7,264.3 668.3,261.6 670.9,261.9 672.0,260.6 673.1,257.3 672.0,260.6 672.6,260.6 674.6,264.5 672.2,264.6 673.0,267.3 675.0,266.0 677.3,268.8 678.2,265.8 680.0,266.3M652.0,262.8 653.2,267.5 650.8,271.0 654.3,271.0 655.5,274.5M651.1,263.1 653.4,264.1 652.8,265.9 652.1,266.8 652.7,269.7 650.8,270.3 652.6,271.0 654.9,270.8 656.2,272.3 655.5,274.5M659.0,266.3 662.5,269.8 661.3,273.3 664.8,271.0 668.3,267.5 666.0,265.2 669.5,262.8 673.0,260.5M659.8,265.5 661.0,266.6 660.2,269.8 661.9,269.6 660.6,271.1 660.7,272.3 663.7,273.0 663.9,270.0 666.1,269.9 667.5,269.0 668.0,267.9 668.1,265.4 666.1,265.3 667.9,264.2 670.3,264.0 670.5,260.5 673.0,260.5M656.7,271.0 659.0,275.7 662.5,276.8M655.3,271.7 657.1,272.7 658.5,274.0 658.7,276.5 661.0,275.6 662.5,276.8M667.2,269.8 669.5,272.2 671.8,268.7 674.2,266.3M666.1,270.9 668.2,271.2 669.2,271.9 671.3,270.9 671.7,268.5 672.3,266.8 674.2,266.3M638.0,281.5 640.3,283.8 642.7,280.3 646.2,281.5M637.5,282.0 640.1,281.7 641.1,284.4 640.9,281.7 642.5,280.7 644.0,282.3 646.2,281.5M603.0,283.8 605.3,282.7 607.7,285.0 606.5,287.9 604.2,286.2 603.0,283.8M578.5,290.8 580.8,290.3 583.8,294.9 584.9,299.0 583.2,297.8 580.8,294.9 577.9,294.3 578.5,290.8M551.7,337.5 555.2,340.4 552.8,344.5 551.1,346.3 550.5,341.6 551.7,337.5M602.8,319.8 603.5,320.2M651.8,284.8 652.5,285.5M656.7,284.2 657.4,284.7M674.4,280.6 675.3,280.6M613.5,353.8 617.0,353.8M650.0,264.0 653.5,261.7 655.8,255.8 657.0,260.5 654.7,266.3 658.2,271.0 660.5,266.3 664.0,264.0 667.5,260.5 672.2,258.2 674.5,261.7 671.0,266.3 673.3,269.8 676.8,266.3 680.3,261.7 685.0,258.2 688.5,259.3 692.0,261.7 695.5,257.0 699.0,253.5 701.3,255.8 704.8,252.3 708.3,248.8 710.7,246.5 708.3,244.2 704.8,244.2 707.2,240.7 706.0,237.2 703.7,234.8 707.2,236.0 710.7,234.8 713.0,238.3 715.3,238.3 720.0,237.2 724.7,236.0 727.0,238.3 730.5,234.8 734.0,233.7 738.7,231.3 743.3,231.9 748.0,230.2 752.7,227.8 757.3,224.9 762.0,222.6 766.7,220.3 771.3,218.5 775.4,217.3 778.3,213.8 779.5,210.3 781.8,209.2 780.7,206.8 778.3,204.5 781.8,208.0 784.2,211.5 783.0,213.8 779.5,215.0 777.2,218.5 773.7,220.8 771.3,223.2 770.2,226.7 772.5,229.0 776.0,230.2 778.3,226.7 781.8,225.5 785.3,226.7 790.0,226.1M650.2,264.3 652.1,263.4 652.8,261.4 652.4,259.0 653.3,257.1 657.2,255.5 655.8,257.5 656.9,258.9 657.0,260.5 654.8,261.9 656.8,264.9 655.5,265.7 655.3,268.3 658.5,268.3 656.4,270.1 658.4,269.2 658.3,267.2 660.2,265.9 661.6,264.3 664.2,264.2 665.4,263.1 665.5,260.8 667.7,260.9 669.0,259.6 670.0,257.6 670.7,259.1 674.2,259.4 675.6,262.5 674.6,264.2 671.7,264.5 669.8,267.2 671.2,268.7 673.1,269.6 673.8,268.0 674.3,266.1 677.3,266.7 678.2,264.9 678.7,262.9 680.7,262.1 681.8,260.3 684.5,260.7 684.7,259.1 687.1,257.8 687.6,260.7 691.3,259.0 692.1,261.7 692.9,259.9 693.5,257.9 694.3,255.8 697.5,256.6 696.5,253.3 698.9,253.6 698.9,255.9 700.3,254.8 701.7,253.8 704.0,253.8 704.9,252.4 706.4,251.6 708.1,250.9 707.4,247.9 709.0,247.1 710.1,247.1 708.2,246.6 708.3,242.6 706.6,243.0 705.6,244.6 704.4,241.3 708.5,240.2 707.5,238.6 705.9,237.3 705.5,235.3 703.7,234.7 705.8,234.4 706.7,234.5 708.6,234.4 712.2,233.8 712.4,236.2 713.0,239.3 715.5,239.1 717.2,239.3 718.7,238.4 719.8,236.3 721.6,237.0 723.1,236.1 723.9,236.8 725.8,237.2 726.3,237.7 728.6,237.6 730.7,237.3 730.1,233.8 732.7,235.7 733.1,231.9 735.1,232.0 736.6,231.2 738.6,232.3 740.8,233.4 743.7,232.8 744.7,230.7 747.0,232.2 747.7,229.6 749.1,228.5 751.8,230.1 752.9,228.3 754.6,227.5 756.1,226.5 758.2,226.6 758.8,224.0 761.1,224.6 762.4,223.3 764.2,223.1 765.0,220.8 767.0,221.1 768.3,219.9 769.5,218.4 771.0,217.4 773.5,218.4 774.1,216.3 778.1,216.6 777.0,213.4 777.1,211.5 778.8,208.9 783.4,208.4 780.2,207.3 778.5,206.7 779.7,203.2 780.8,204.4 780.1,207.4 781.4,208.3 782.4,210.2 783.3,211.1 783.6,215.5 781.1,214.1 780.0,215.3 777.3,216.0 776.5,217.4 774.6,218.4 774.9,222.1 771.5,221.0 769.8,222.6 769.1,224.4 771.3,225.6 772.2,227.0 773.0,227.5 774.8,227.8 777.2,230.9 778.2,229.1 778.5,227.2 780.5,227.3 781.7,226.0 783.9,225.3 785.1,225.1 787.5,224.8 790.0,226.1M650.0,268.7 652.3,273.3 655.8,271.0 654.7,275.7 652.3,279.2 657.0,278.0 659.3,273.3 662.8,275.7 660.5,279.2 664.0,278.0 666.3,273.3 665.2,268.7 668.7,266.3 669.8,271.0 667.5,275.7 672.2,273.3 674.5,268.7M649.3,269.0 651.6,269.8 652.1,271.5 652.2,273.1 653.2,270.9 656.6,271.2 656.1,272.7 654.4,273.9 655.0,275.9 654.0,277.7 652.7,280.6 653.9,278.8 655.7,279.5 657.3,278.2 656.4,275.8 658.3,274.8 659.4,273.2 660.6,275.2 663.2,275.9 661.1,277.1 660.5,279.3 662.0,277.7 665.0,278.5 663.6,275.9 666.5,275.4 665.3,273.6 664.4,272.2 664.6,270.5 665.6,269.4 667.8,268.8 670.2,266.0 669.1,267.9 669.5,269.4 669.0,270.6 670.0,273.0 668.3,274.1 667.3,275.2 669.5,275.8 670.3,273.4 673.4,274.0 672.3,271.5 672.9,269.8 674.5,268.7M673.3,268.7 680.3,262.8 688.5,259.3 695.5,257.0 701.3,254.7 708.3,248.8 710.7,246.5M673.9,269.4 674.7,267.5 674.9,264.9 678.0,265.7 677.6,262.5 680.9,264.1 682.3,263.0 684.1,262.7 685.5,261.3 686.6,259.4 688.4,258.9 690.1,258.3 692.6,259.9 693.1,255.7 696.2,258.7 696.6,254.1 698.9,254.1 700.6,253.8 704.0,255.0 704.1,252.3 705.2,250.7 708.1,251.4 707.4,247.9 709.4,247.5 710.7,246.5M674.5,269.8 681.5,264.0 689.7,260.5 696.7,257.6 702.5,254.7 708.9,249.4M674.6,269.9 676.6,269.5 677.9,268.3 679.1,266.8 679.7,264.7 681.2,263.4 682.6,262.0 685.3,263.9 686.7,262.5 688.4,262.1 689.2,259.3 691.3,259.5 693.6,260.1 695.0,258.6 696.0,256.2 698.1,256.7 700.3,257.5 700.6,254.5 701.7,253.7 703.3,253.0 705.6,253.2 707.2,252.6 706.8,249.4 708.9,249.4M651.2,261.7 653.5,266.3 651.2,271.0M652.1,261.2 652.6,262.9 653.2,264.5 653.4,266.3 653.6,268.3 652.4,269.7 651.2,271.0M661.7,265.2 664.0,269.8 661.7,273.3M662.5,264.8 661.2,267.4 662.6,268.6 665.0,270.5 661.7,270.8 661.7,273.3M680.3,264.0 685.0,260.5 687.3,262.8 690.8,259.3 694.3,260.5 692.0,264.0M679.6,263.0 681.7,262.6 684.3,262.8 684.4,261.1 685.7,262.2 687.2,262.7 687.9,261.0 690.0,260.8 691.2,258.2 692.9,259.1 694.6,260.7 694.3,263.0 692.0,264.0M696.7,254.7 699.0,257.0 702.5,254.7 700.2,252.3M696.8,254.5 697.3,256.3 699.3,257.4 700.8,255.8 702.7,254.4 701.3,253.6 700.2,252.3M706.0,245.3 709.5,243.0 711.8,240.7 710.7,245.3 708.3,247.7M705.5,244.6 707.9,244.4 709.3,242.8 711.1,242.2 710.9,240.4 711.6,242.3 710.9,243.7 710.2,244.9 709.6,246.6 708.3,247.7M713.6,250.0 716.5,249.4 718.3,252.9 717.1,257.0 713.6,257.0 712.4,254.7 713.6,250.0M727.0,271.0 731.7,265.2 736.3,260.5 741.0,257.0 745.7,253.5 749.2,252.3 752.7,251.2 748.0,254.7 746.8,255.8 751.5,252.3 755.0,247.7 759.7,244.2 764.3,240.7 769.0,237.2 773.7,234.8 778.3,233.1 783.0,231.3 787.7,230.2M726.8,270.8 728.3,269.7 729.6,268.3 730.7,266.8 731.8,265.3 733.1,264.3 734.1,263.0 735.3,261.8 736.3,260.5 737.8,259.2 739.5,258.3 740.8,256.7 742.5,255.8 744.3,254.9 745.7,253.7 747.5,253.0 749.1,252.1 750.9,251.7 752.7,251.2 751.0,252.2 749.6,253.6 747.9,254.5 747.1,256.2 748.2,254.4 750.0,253.6 751.7,252.5 752.6,250.7 753.8,249.2 755.3,248.0 756.3,246.1 758.1,245.4 759.5,243.9 761.4,243.2 763.0,242.2 764.4,240.7 765.7,239.2 767.5,238.4 769.0,237.2 770.7,236.6 772.1,235.6 773.7,235.0 775.3,234.6 776.8,233.7 778.3,233.0 780.1,232.9 781.3,231.6 783.1,231.5 784.5,230.8 786.2,230.8 787.7,230.2M727.6,269.8 734.0,264.0 739.8,258.2 743.3,257.6 738.7,261.7 735.2,266.3 734.0,271.0 733.4,275.7 734.6,280.3 735.2,285.0M684.4,212.7 687.3,215.0 690.8,217.3 696.1,217.3 696.4,215.0 694.9,218.5 690.3,218.5 686.2,215.0 684.4,212.7M733.4,208.0 736.3,205.1 739.8,199.8 742.8,199.8 739.8,204.5 737.5,208.0 734.0,208.6 733.4,208.0M650.0,210.9 653.5,211.5 656.4,215.0 654.7,217.3 651.8,216.2 652.9,213.8 650.0,212.7M736.3,227.8 738.7,225.5M717.7,243.0 718.8,242.4M706.6,260.5 707.2,260.5M759.7,264.6 763.2,265.2 762.0,266.9 759.7,264.6M762.6,272.2 764.9,269.8 768.4,270.4 769.0,273.3 765.5,274.5 762.6,273.3 762.6,272.2M767.8,231.3 768.4,231.9M773.2,283.8 777.8,279.2 782.5,274.5 787.2,271.0 789.5,266.3 791.8,261.7 790.1,259.3 794.2,257.0 798.8,254.7 800.0,257.0 798.8,260.5 802.3,261.7 805.8,260.5 808.2,262.8 811.7,261.7 812.8,258.2 809.3,254.7 808.8,252.3 811.7,255.8 815.2,254.1 819.8,254.7 823.3,251.2 826.8,250.0 828.6,247.1 829.2,252.3 831.5,253.5 836.2,250.0 840.8,247.7 845.5,246.5 849.0,244.8 853.7,244.2 857.2,240.7 861.8,238.3 865.3,236.0 864.2,233.1 867.7,235.4 872.3,234.3 877.0,232.5 881.7,231.3 886.3,230.2 888.1,227.8 884.0,227.8 879.3,227.3 874.7,227.8 871.8,224.9 874.1,225.5 878.8,224.3 879.9,221.4 877.0,218.5 880.5,219.1 884.0,220.8 887.5,222.0 888.7,219.7 885.2,217.3 882.8,215.0 884.0,211.5 886.9,208.0 888.7,204.5 886.3,208.0 889.8,209.2 893.3,206.8 896.8,204.5 900.9,203.3M772.1,282.8 775.7,284.0 775.1,281.1 775.4,279.1 777.2,278.5 778.7,277.7 778.8,275.5 781.1,275.4 782.3,274.3 784.5,274.0 785.3,271.7 786.3,270.6 787.0,269.0 789.6,268.3 791.1,267.1 790.4,264.8 790.1,262.7 792.8,260.9 789.9,259.0 791.6,257.2 793.5,255.7 796.2,257.2 797.8,256.6 798.4,254.9 800.1,257.0 799.2,258.7 799.2,259.5 800.0,262.8 802.1,261.1 804.3,261.6 804.9,261.4 806.1,262.6 808.1,262.7 809.7,261.5 811.9,261.7 810.8,259.4 813.8,257.2 811.3,257.4 811.5,254.8 808.4,254.9 809.1,252.0 811.0,253.5 811.5,255.6 812.9,253.8 815.4,252.1 817.4,255.3 819.2,254.1 820.3,252.8 821.6,251.8 823.3,251.1 825.0,250.3 827.3,250.3 828.3,248.9 829.1,247.0 827.1,249.0 827.6,250.7 830.0,250.8 832.3,254.6 834.0,253.6 835.3,252.1 835.5,248.7 838.3,250.4 839.5,248.9 840.4,245.8 841.9,245.4 844.4,248.6 845.8,247.1 846.8,244.7 848.8,243.2 851.2,243.0 852.9,243.4 855.6,243.8 855.6,241.4 856.5,239.4 859.4,241.3 860.8,240.2 861.1,237.2 864.5,238.5 865.7,235.8 863.5,234.0 865.5,234.8 868.1,236.9 869.5,236.1 871.1,236.0 871.9,233.1 874.2,234.4 875.5,233.2 877.2,233.4 878.5,231.9 880.5,233.2 881.7,231.5 883.0,230.0 884.5,229.5 885.2,229.3 888.1,227.9 886.0,229.6 884.0,228.0 881.5,229.0 879.3,227.3 877.0,227.6 874.8,227.7 874.2,225.4 872.2,223.0 874.4,226.8 875.6,225.0 877.3,225.0 879.4,224.6 880.9,220.5 878.1,220.3 877.1,218.2 878.5,220.6 881.3,217.6 882.0,220.5 883.8,221.4 886.4,219.6 887.9,222.2 889.1,219.1 887.9,217.1 884.7,217.8 885.4,214.8 882.9,215.0 883.4,213.2 885.2,212.5 884.0,208.6 887.7,208.4 888.2,206.5 889.2,204.9 886.3,205.4 886.5,207.5 888.1,208.5 889.9,209.3 892.2,208.9 892.7,205.9 894.9,205.5 896.8,204.2 898.9,204.1 900.9,203.3M773.2,283.8 782.5,274.5 789.5,266.3 794.2,257.0 802.3,261.7 811.7,261.7 819.8,254.7 828.6,250.0 840.8,247.7 853.7,244.2 865.3,236.0 877.0,232.5 886.3,230.2M774.0,284.7 773.8,282.1 776.3,282.3 776.4,280.1 777.8,279.2 778.4,277.4 780.2,276.9 782.5,276.9 782.9,274.9 784.5,273.8 784.4,271.4 785.5,270.0 786.6,268.6 788.6,267.9 789.9,266.6 791.2,265.2 789.6,262.5 792.6,262.0 793.9,260.7 793.5,258.6 795.0,255.6 796.2,257.3 798.3,257.3 799.6,258.8 799.9,262.1 802.3,262.1 804.2,262.2 806.1,262.7 807.9,263.1 809.8,262.1 811.9,262.0 813.3,260.9 814.9,259.9 816.0,258.4 817.5,257.5 817.8,255.1 820.1,255.2 821.2,253.8 823.2,253.9 823.5,251.1 825.1,250.5 826.3,249.3 828.8,251.0 830.6,251.1 832.2,249.9 833.7,248.5 835.8,249.8 837.5,249.4 839.1,248.2 840.6,246.8 842.3,246.5 844.0,246.5 845.5,245.7 847.2,245.7 849.0,246.0 850.9,246.6 851.6,243.1 853.8,244.4 854.2,241.8 855.8,241.0 858.7,242.0 859.7,240.3 861.8,240.3 862.3,237.9 862.9,235.6 865.2,235.6 867.1,235.8 869.1,236.5 870.8,236.2 872.0,233.9 873.6,233.2 874.9,231.6 877.1,233.0 878.3,231.1 879.8,230.5 881.2,229.6 882.8,229.2 884.9,231.2 886.3,230.2M774.3,281.5 779.0,276.8 783.7,273.3 786.6,268.7 788.3,264.0 791.3,260.5 793.0,255.8 796.5,255.8M773.7,280.9 776.3,281.1 776.0,278.5 778.5,278.6 778.5,276.1 779.9,274.7 782.4,274.9 783.1,273.0 785.1,272.1 785.0,269.8 785.6,268.3 787.8,267.3 788.2,265.7 789.0,264.6 790.2,262.6 790.3,260.2 792.1,259.1 792.9,257.6 793.0,255.7 794.8,256.9 796.5,255.8M787.2,269.8 790.7,267.5 791.8,264.0 794.2,260.5M786.8,269.3 789.5,269.6 791.2,267.7 790.1,265.4 790.9,263.4 793.3,262.5 794.2,260.5M793.6,251.2 795.3,246.5 794.8,250.0M809.9,246.5 811.1,243.6M769.7,266.3 773.2,268.7 772.0,271.0M839.7,248.8 842.0,250.0 846.7,247.7 851.3,246.5 854.8,243.0 858.3,241.8M839.3,249.5 841.6,249.1 843.4,248.8 845.4,248.9 846.5,246.9 848.4,248.1 849.8,246.9 850.6,245.8 852.3,245.1 853.8,244.3 854.8,242.9 856.7,242.8 858.3,241.8M786.6,230.2 788.3,233.7 787.8,237.2 791.8,236.6 794.2,241.3 793.0,236.0 795.3,232.5 800.0,230.2 805.8,228.4 811.7,227.8 816.3,227.3 814.0,230.2 812.8,227.8 805.8,226.7 800.0,226.7 795.3,226.1 790.7,226.7 786.6,227.8 784.8,229.0 786.6,230.2M795.3,201.6 796.5,201.0 800.0,203.3 803.5,206.8 808.2,208.0 812.8,208.0 816.3,210.3 818.7,213.8 821.0,210.9 825.7,210.3 830.3,211.5 835.0,212.7 838.5,215.0 842.0,216.2 846.7,215.0 851.3,212.7 856.0,209.8 859.5,207.4 860.7,210.3 860.1,215.0 858.3,217.3 861.8,216.2 865.3,216.8 868.8,215.0 872.3,214.4 873.5,210.3 872.3,205.7 870.0,202.2 872.3,199.8 874.7,196.3 878.2,191.7 881.7,187.0 885.2,182.3 886.9,180.0M795.0,201.0 796.2,201.4 798.4,202.0 799.8,203.5 801.0,204.7 802.4,205.6 803.6,206.6 804.9,207.7 806.4,208.4 808.2,208.5 810.5,208.1 813.0,207.7 815.0,208.5 815.6,210.8 817.2,212.3 819.1,214.2 819.6,212.2 821.0,211.1 823.4,211.5 825.5,210.9 827.2,210.9 828.9,210.8 830.4,211.4 831.7,212.6 833.5,212.1 834.8,212.9 836.7,214.0 838.3,215.7 840.1,216.1 841.9,215.8 843.3,214.9 845.0,215.0 846.6,214.9 848.3,214.4 850.0,214.0 851.7,213.3 852.5,211.0 854.8,211.2 856.3,210.2 858.1,209.1 859.4,207.5 861.1,210.4 859.8,212.6 859.6,214.7 858.4,217.7 860.3,217.5 861.9,215.9 863.7,215.7 865.4,216.8 867.3,216.4 868.7,214.5 870.7,215.2 873.1,214.6 872.5,212.2 873.7,210.3 873.4,208.7 872.7,207.2 871.9,206.0 870.8,204.2 870.3,202.5 871.5,201.4 872.3,199.8 872.9,197.7 875.1,196.7 876.2,195.1 876.6,192.9 878.3,191.8 879.9,190.5 881.1,189.0 881.7,187.0 882.8,185.4 884.1,184.0 884.7,182.0 886.9,180.0M872.3,214.4 874.7,216.2 877.0,218.5M879.9,196.3 882.8,197.5 883.4,201.0 879.9,196.3M839.7,210.3 842.0,209.2M887.5,202.2 891.0,199.8 894.5,198.7 898.0,196.3 900.9,194.0 899.2,191.7 900.9,190.5M887.0,201.4 888.7,200.2 891.2,200.4 892.6,198.9 894.6,198.8 896.1,197.3 898.0,196.4 898.8,194.3 899.8,194.8 900.0,192.9 900.9,190.5M888.7,210.3 893.3,208.0 898.0,205.1 900.9,203.9M888.5,210.0 889.7,208.5 892.0,209.1 893.8,208.7 894.3,206.2 896.6,206.3 897.8,204.7 900.9,203.9M891.0,215.0 895.7,211.5 900.9,208.0M891.0,215.0 891.7,212.7 893.3,211.5 896.5,212.7 898.0,211.2 899.2,209.1 900.9,208.0M888.7,219.7 893.3,217.3 900.9,216.8M888.8,219.8 889.9,218.3 892.2,218.9 893.3,217.1 895.3,218.5 897.2,217.8 899.1,217.9 900.9,216.8M884.0,213.8 887.5,211.5 891.0,212.7 893.3,210.3M884.8,215.0 885.3,212.1 887.9,210.2 889.5,211.2 890.3,212.0 891.3,210.6 893.3,210.3M873.5,139.8 875.3,140.4 871.2,142.2 867.7,143.3 865.3,146.8 861.8,148.6 858.9,150.3 858.3,154.4 856.6,155.6 858.3,156.2 861.8,155.6 860.7,153.3 860.1,150.9 863.0,148.6 865.3,145.7 868.8,142.8 873.5,139.8M873.8,138.8 875.2,140.3 872.9,140.5 871.2,142.3 869.1,141.7 866.9,142.8 867.4,145.7 865.2,146.6 863.7,147.9 862.3,149.4 859.8,148.5 859.5,150.4 858.5,152.4 858.2,154.1 856.2,156.6 858.4,156.6 860.0,155.6 861.7,155.6 859.9,153.5 860.8,151.8 862.3,150.7 862.5,148.2 863.3,146.4 865.0,145.2 866.9,143.9 869.4,143.6 870.9,142.6 872.4,141.5 873.5,139.8M873.3,133.2 874.2,133.7M882.0,132.0 882.7,132.5M865.6,153.6 866.5,154.3M900.9,163.2 898.0,164.3 895.7,169.0 892.2,173.7 888.7,178.3 886.3,184.2 884.0,190.0M700.0,73.7 688.3,75.4 677.8,77.2 675.5,79.5 674.3,83.0 670.8,81.8 668.5,84.8 665.0,84.2 661.5,86.5 660.3,90.6 656.8,91.2 653.3,94.1 649.3,96.4 647.5,100.5 644.0,103.4 641.7,107.5 639.3,111.6 634.7,115.7 631.2,118.6 628.8,120.9 625.3,119.2 621.3,115.7 623.6,117.4 626.5,120.3 629.4,120.9 628.3,125.0 625.3,129.7 623.0,134.9 619.5,137.8 616.0,140.2 613.7,144.3 610.2,146.6 606.7,147.8 604.9,151.8 602.0,155.9 599.7,160.6 595.0,162.9 590.3,166.4 586.3,169.3 585.1,171.1M700.0,91.2 694.2,92.9 688.3,95.3 683.7,97.6 679.0,99.9 674.3,102.3 669.7,104.6 665.0,107.5 660.3,109.8 655.7,111.6 652.2,113.9 647.5,117.4 644.0,120.3 640.5,123.3 637.0,125.0 634.7,129.7 632.3,134.3 628.8,137.8 624.2,142.5 620.1,146.0 618.3,150.7 614.3,154.2 611.3,158.8 606.7,163.5 600.8,166.4 595.0,168.8 589.2,171.1 585.1,171.1M586.8,169.9 593.8,163.5 597.3,162.3 596.2,165.3 590.3,168.8 586.8,169.9M598.5,164.1 604.3,161.2 607.8,158.8 606.7,162.3 600.8,164.7 598.5,164.1M640.5,77.2 642.3,77.8 643.4,80.7 641.7,80.1 640.5,77.2M653.3,109.3 655.7,110.4M606.7,147.8 609.0,150.7 611.3,147.2M627.7,132.0 630.6,129.7M621.3,115.4 623.6,117.1 621.6,116.1M680.0,99.6 687.0,95.8 694.0,92.3 701.0,89.4 710.3,86.5 718.5,83.0 726.7,80.4 734.8,78.6 743.0,77.4 750.0,76.9 759.3,77.4 768.7,79.3 776.8,81.8 783.8,85.3 789.7,88.8 792.6,92.3 793.2,96.4 788.5,94.1 785.0,92.9 782.7,91.4 786.8,94.1 790.3,97.6 793.2,100.5 791.4,102.8 789.7,104.0 792.6,105.8 793.2,107.5 789.7,106.9 787.3,109.3 782.7,111.0 778.0,112.8 775.7,115.7 773.3,118.0 769.8,119.2 766.3,122.1 761.7,124.4 757.0,125.6 754.7,125.0 750.0,122.7 745.3,120.9 741.8,118.6 739.5,119.2 737.2,122.1 733.7,121.5 730.2,122.1 726.7,121.5 723.2,122.1 719.7,124.4 715.6,126.2 719.7,125.0 724.3,123.3 727.8,124.4 731.3,125.6 734.8,126.8 738.3,128.5 743.0,129.1 746.5,130.8 747.7,134.3 748.3,137.8 750.0,140.8 751.2,138.4 754.7,137.3 759.3,134.3 762.8,132.6 767.5,133.2 772.2,132.6 775.7,133.2 776.8,135.5 780.3,134.3 782.7,130.8 784.4,127.3 783.3,125.6 780.9,128.5 779.2,132.0 776.8,135.5 774.5,139.0 773.3,142.5 772.2,146.0 771.0,150.7 768.7,154.2 766.3,156.5 761.7,160.0 756.4,161.2 761.7,161.8 762.8,162.9 766.3,161.2 768.7,161.2 773.3,161.8 774.5,164.7 772.8,168.2 770.4,170.5 773.3,173.4M679.8,99.2 681.9,98.9 683.6,97.9 685.3,96.9 687.2,96.3 688.6,94.6 690.3,93.8 692.4,93.4 694.2,92.7 695.8,91.8 697.4,90.7 699.3,90.2 701.1,89.7 702.4,88.6 704.1,88.3 705.6,87.7 707.1,87.1 708.8,87.0 710.2,86.2 711.9,85.6 713.5,84.8 715.3,84.6 716.7,83.3 718.6,83.2 720.0,82.2 721.6,81.5 723.5,81.9 725.0,80.7 726.8,80.9 728.4,80.4 730.0,80.1 731.5,79.0 733.2,78.9 734.8,78.2 736.5,78.8 738.2,78.4 739.8,78.0 741.4,77.6 743.0,77.2 744.8,77.6 746.5,77.1 748.3,77.2 750.0,76.6 751.9,76.7 753.8,76.7 755.6,77.4 757.5,77.4 759.4,77.1 761.1,78.1 763.1,77.9 765.0,78.4 766.9,78.6 768.7,79.0 770.2,80.1 772.0,80.1 773.7,80.5 775.2,81.3 776.9,81.7 778.4,83.1 780.5,83.2 781.9,84.9 784.1,85.0 785.1,86.5 786.7,87.2 788.4,87.7 789.7,88.8 791.3,90.4 792.8,92.3 793.2,94.3 793.1,96.5 791.8,95.2 790.3,94.4 788.6,93.7 786.6,93.9 784.9,93.1 782.5,91.7 784.3,91.9 785.3,93.4 786.9,93.9 787.6,95.6 789.4,96.1 790.0,97.8 791.8,98.9 793.5,100.7 791.7,103.2 789.5,104.3 791.1,104.9 792.9,105.7 793.2,107.6 791.5,106.8 789.9,107.1 788.5,108.0 787.5,109.6 785.9,110.1 784.1,110.2 782.6,110.8 781.2,111.9 779.7,112.6 778.3,113.0 776.8,114.1 775.7,115.7 774.7,117.0 773.4,118.3 771.6,118.5 769.7,119.0 767.9,120.4 766.3,122.0 764.9,123.1 763.4,124.0 761.6,124.2 760.1,124.9 758.5,125.0 756.9,126.0 754.8,124.7 753.0,124.4 751.7,123.1 750.1,122.3 748.4,122.1 746.7,122.0 745.6,120.6 743.6,119.8 741.7,118.2 739.7,119.3 738.6,120.8 737.2,121.8 735.4,121.9 733.7,121.8 731.9,121.9 730.2,122.0 728.3,122.3 726.7,121.5 724.9,121.8 723.2,122.1 721.6,123.6 719.6,124.2 717.5,125.0 715.7,126.5 717.6,125.4 719.7,125.2 721.2,124.3 722.9,124.1 724.5,122.8 726.0,124.2 727.7,124.9 729.6,125.0 731.3,125.6 733.1,126.2 734.8,126.8 736.8,127.2 738.3,129.0 740.7,128.5 743.1,128.8 744.9,129.6 746.7,130.8 746.8,132.7 748.1,134.3 748.4,136.0 748.1,137.9 749.4,139.1 749.6,140.5 751.2,138.5 752.9,137.9 754.7,137.3 756.3,136.5 757.6,135.0 759.5,134.7 761.2,133.7 762.9,132.1 765.2,132.5 767.5,133.2 769.8,132.9 772.2,132.4 774.0,132.5 775.8,133.1 776.7,135.2 778.6,135.0 780.6,134.5 781.2,132.4 782.7,130.9 783.8,129.2 784.1,127.5 783.0,125.4 781.7,126.8 781.0,128.6 780.1,130.3 778.9,131.8 778.0,133.7 776.9,135.6 775.3,137.0 774.2,138.9 774.1,140.8 773.6,142.6 772.9,144.3 772.2,146.0 771.3,147.4 771.1,149.0 770.7,150.4 769.6,152.2 768.4,153.9 767.8,155.7 766.3,156.5 764.5,157.3 763.0,158.5 761.7,160.2 759.9,160.5 758.1,160.7 756.4,161.0 758.2,161.4 760.0,161.1 761.7,161.7 762.8,162.9 764.4,161.6 766.3,160.8 768.6,161.6 771.0,161.7 772.9,161.9 774.4,164.6 773.4,166.3 772.5,167.9 771.3,169.1 770.8,170.2 771.8,172.1 773.3,173.4M680.0,76.6 689.3,75.4 698.7,74.3 701.6,70.8 702.8,69.0M585.5,170.4 591.3,165.2 596.0,162.3 601.8,160.5 605.3,158.2 608.8,157.0 607.7,160.5 605.3,164.0 598.3,166.9 591.3,169.8 586.7,171.6 585.5,170.4M596.0,162.3 599.5,158.8 603.0,154.1 605.3,150.0M605.3,164.0 610.0,159.3 614.7,154.1 619.3,150.0M567.4,178.0 572.7,176.3 578.5,174.5 582.6,173.9 578.5,175.9 572.7,178.0 567.4,178.6 567.4,178.0M579.7,211.3 581.4,207.2 582.0,209.5M583.8,204.3 586.7,203.7 587.3,207.2 586.7,210.1 585.5,207.2 583.8,204.3M638.6,190.3 642.1,193.2 646.2,197.3M635.7,196.7 639.2,200.2 640.3,204.8 642.1,208.3 644.4,207.2 641.5,204.8 639.2,199.0 635.7,196.7M629.8,207.8 632.2,208.3 631.0,211.8 634.5,215.3 635.7,218.8 632.8,223.5 631.0,218.8 628.7,215.3 626.3,213.0 629.8,210.7 629.8,207.8M650.8,211.3 653.8,211.8 656.7,216.5 653.2,217.1 650.8,214.2 650.8,211.3M771.7,173.8 776.3,177.3 778.1,182.0 779.8,185.5 782.2,189.0 778.7,190.2 782.2,191.3 783.3,194.3 788.0,194.3 791.5,195.4 795.0,197.2 799.7,197.2 805.5,197.8 802.0,199.5 797.3,200.7 795.6,201.8 798.5,203.6 802.0,205.9 805.5,207.7 811.3,208.3 814.8,210.0 819.5,212.9 823.0,211.2 826.5,210.6 830.0,210.0M771.9,173.5 773.0,175.3 775.0,175.8 776.3,177.4 776.2,179.2 777.3,180.5 778.5,181.8 778.9,183.8 779.9,185.4 780.3,187.7 782.3,189.4 780.5,189.9 778.6,190.4 780.6,190.1 782.0,191.4 783.3,195.1 785.7,194.3 788.1,193.9 789.8,194.8 791.5,195.5 793.5,195.7 795.0,196.5 797.3,196.5 799.7,196.8 801.6,197.2 803.6,197.2 805.7,198.2 804.1,199.3 802.0,199.4 800.3,199.3 798.8,200.1 797.3,200.6 795.4,202.1 797.3,202.3 798.3,203.9 800.3,204.7 802.0,206.0 803.7,207.0 805.5,207.6 807.5,207.5 809.4,207.6 811.6,207.8 813.1,209.1 815.0,209.8 816.3,211.1 818.4,211.2 819.4,212.7 821.5,212.6 822.9,210.7 824.8,211.0 826.5,210.6 828.2,209.9 830.0,210.0M798.5,162.8 795.0,165.1 791.5,169.2 788.6,173.3 786.3,175.6 786.8,178.5 790.3,179.1 795.0,177.9 796.8,180.3 795.6,184.3 795.0,186.7 797.9,187.8 802.0,186.7 805.5,186.1 806.7,189.0 809.0,191.9 812.5,194.3 817.2,196.0 821.8,197.2 825.9,197.8 830.0,197.2M798.0,162.0 797.0,164.2 794.6,164.8 794.3,166.8 793.3,168.3 791.0,168.8 790.6,170.6 790.2,172.3 788.7,173.4 787.5,174.5 785.8,175.7 787.0,177.8 788.7,178.3 790.5,179.9 792.0,179.1 793.3,177.7 795.2,177.7 797.0,180.3 795.9,182.2 795.4,184.3 794.8,187.3 798.1,188.4 800.0,187.3 802.1,187.1 803.8,186.8 805.1,186.3 806.7,189.0 807.4,190.8 808.8,192.2 810.3,193.7 812.7,193.6 813.8,195.5 815.9,194.6 817.1,196.5 818.7,196.5 820.3,196.8 821.7,198.0 823.9,197.6 825.9,197.6 828.0,198.0 830.0,197.2M798.5,162.8 799.1,168.0 796.8,170.9 796.2,175.0 797.9,173.8 800.8,177.3 804.9,180.3 809.0,182.0 813.7,183.2 818.3,184.3 823.0,186.1 827.7,187.3 830.0,186.7M797.8,162.8 798.5,164.5 799.1,166.2 799.2,168.1 798.0,169.5 796.4,170.9 796.8,173.0 796.1,174.8 797.8,173.9 799.5,175.5 801.0,177.1 801.9,178.7 803.2,179.8 804.9,180.3 807.0,181.0 809.1,181.5 810.6,182.0 812.3,182.2 813.6,183.3 815.2,183.7 817.0,183.2 818.1,185.0 820.0,184.6 821.2,186.1 822.9,186.7 824.4,187.3 826.2,186.3 827.6,187.1 830.0,186.7M802.0,179.7 805.5,182.0 806.7,184.9 803.2,185.5 802.0,183.2 802.0,179.7M820.7,193.7 824.2,192.5 826.5,194.8 823.0,196.0 820.7,193.7M786.8,208.8 789.2,207.7 790.3,210.6 788.6,212.3 786.8,208.8M733.2,207.7 736.1,204.2 739.0,200.1 742.5,199.5 741.3,203.6 738.4,207.7 734.3,208.8 733.2,207.7M734.3,229.3 738.4,225.8M690.0,216.4 695.8,215.8 696.4,218.2 691.2,218.2M749.3,140.9 750.2,141.4M767.9,231.9 768.4,232.4M773.0,733.0 776.0,731.0 779.0,729.0 777.0,732.0 774.0,734.0M830.0,186.7 832.7,186.4 839.7,185.3 846.7,184.7 853.7,184.4 858.3,184.9 856.0,185.8 851.3,188.2 846.7,190.5 844.9,192.8 845.5,196.3 843.2,194.6 839.7,195.2 840.8,198.7 842.6,202.8 839.7,203.3 835.0,203.3 831.5,202.8 830.3,198.7 830.0,197.2M734.4,280.8 734.4,285.5 735.6,289.0 737.3,292.5 738.5,294.8 739.1,291.3 740.8,287.8 739.7,291.3 742.0,292.5 744.3,294.8 746.1,298.3 747.8,300.7 750.2,303.0 751.3,299.5 753.7,300.7 756.0,298.3 757.2,294.8 758.3,291.3 759.5,294.3 763.0,292.5 765.3,290.2 767.7,291.9 770.0,289.0 773.5,286.7M733.1,280.8 736.0,283.2 735.8,285.0 734.8,287.3 735.6,289.0 735.3,291.4 736.6,292.9 738.6,294.9 740.4,293.3 739.1,291.4 740.0,289.6 740.3,287.6 740.6,289.7 739.9,290.9 741.8,292.7 743.5,293.3 743.1,295.5 744.7,296.8 746.0,298.4 748.7,299.8 749.3,301.6 749.9,302.9 750.9,301.3 751.2,299.7 754.5,301.5 755.9,300.6 756.0,298.3 756.4,296.5 757.5,295.0 759.3,293.6 758.8,291.1 759.5,294.3 761.7,294.3 762.3,291.8 763.8,290.9 764.4,291.4 768.5,292.6 768.9,290.5 769.3,288.0 772.5,288.9 773.5,286.7M737.3,290.2 740.3,286.7 743.2,289.0 740.8,292.5 743.8,293.7 745.5,290.2 747.8,291.3 746.7,285.5 744.3,284.9M737.8,290.5 739.5,289.0 739.3,287.8 741.0,288.7 743.4,289.1 742.9,291.3 741.1,291.9 743.8,293.7 744.6,291.9 745.9,289.3 746.9,291.5 747.8,289.3 747.4,287.4 746.6,285.9 744.3,284.9M738.5,300.7 739.1,303.6M746.7,252.8 750.2,251.7 753.7,251.1 750.2,254.0 746.7,255.2 746.7,252.8M760.7,264.5 763.0,265.1 761.8,266.3 760.7,264.5M763.0,271.5 765.3,269.8 768.8,270.3 769.4,273.3 765.9,274.4 763.0,273.8 763.0,271.5M770.0,267.4 773.5,266.3 772.3,269.2M793.3,251.7 795.7,247.0 795.1,250.5M809.7,245.3 810.8,243.5M809.0,69.0 810.5,72.0 816.0,74.5 822.0,78.0 828.0,79.5 834.0,81.0 840.0,82.5 846.0,84.0 852.0,84.5 860.0,84.5 864.5,84.0 866.8,83.0 866.2,80.0 864.0,76.5 861.5,73.5 858.0,72.5 854.0,71.5 850.0,70.0 848.5,69.0"/>
<rect x="340.5" y="68.5" width="561" height="732" stroke="#000" stroke-width="1" fill="none" shape-rendering="crispEdges"/>
<g shape-rendering="crispEdges">
<rect x="361" y="402.06" width="24" height="5.24" fill="#00008f"/>
<rect x="361" y="397.12" width="24" height="5.24" fill="#00009f"/>
<rect x="361" y="392.19" width="24" height="5.24" fill="#0000af"/>
<rect x="361" y="387.25" width="24" height="5.24" fill="#0000bf"/>
<rect x="361" y="382.31" width="24" height="5.24" fill="#0000cf"/>
<rect x="361" y="377.38" width="24" height="5.24" fill="#0000df"/>
<rect x="361" y="372.44" width="24" height="5.24" fill="#0000ef"/>
<rect x="361" y="367.50" width="24" height="5.24" fill="#0000ff"/>
<rect x="361" y="362.56" width="24" height="5.24" fill="#0010ff"/>
<rect x="361" y="357.62" width="24" height="5.24" fill="#0020ff"/>
<rect x="361" y="352.69" width="24" height="5.24" fill="#0030ff"/>
<rect x="361" y="347.75" width="24" height="5.24" fill="#0040ff"/>
<rect x="361" y="342.81" width="24" height="5.24" fill="#0050ff"/>
<rect x="361" y="337.88" width="24" height="5.24" fill="#0060ff"/>
<rect x="361" y="332.94" width="24" height="5.24" fill="#0070ff"/>
<rect x="361" y="328.00" width="24" height="5.24" fill="#0080ff"/>
<rect x="361" y="323.06" width="24" height="5.24" fill="#008fff"/>
<rect x="361" y="318.12" width="24" height="5.24" fill="#009fff"/>
<rect x="361" y="313.19" width="24" height="5.24" fill="#00afff"/>
<rect x="361" y="308.25" width="24" height="5.24" fill="#00bfff"/>
<rect x="361" y="303.31" width="24" height="5.24" fill="#00cfff"/>
<rect x="361" y="298.38" width="24" height="5.24" fill="#00dfff"/>
<rect x="361" y="293.44" width="24" height="5.24" fill="#00efff"/>
<rect x="361" y="288.50" width="24" height="5.24" fill="#00ffff"/>
<rect x="361" y="283.56" width="24" height="5.24" fill="#10ffef"/>
<rect x="361" y="278.62" width="24" height="5.24" fill="#20ffdf"/>
<rect x="361" y="273.69" width="24" height="5.24" fill="#30ffcf"/>
<rect x="361" y="268.75" width="24" height="5.24" fill="#40ffbf"/>
<rect x="361" y="263.81" width="24" height="5.24" fill="#50ffaf"/>
<rect x="361" y="258.88" width="24" height="5.24" fill="#60ff9f"/>
<rect x="361" y="253.94" width="24" height="5.24" fill="#70ff8f"/>
<rect x="361" y="249.00" width="24" height="5.24" fill="#80ff80"/>
<rect x="361" y="244.06" width="24" height="5.24" fill="#8fff70"/>
<rect x="361" y="239.12" width="24" height="5.24" fill="#9fff60"/>
<rect x="361" y="234.19" width="24" height="5.24" fill="#afff50"/>
<rect x="361" y="229.25" width="24" height="5.24" fill="#bfff40"/>
<rect x="361" y="224.31" width="24" height="5.24" fill="#cfff30"/>
<rect x="361" y="219.38" width="24" height="5.24" fill="#dfff20"/>
<rect x="361" y="214.44" width="24" height="5.24" fill="#efff10"/>
<rect x="361" y="209.50" width="24" height="5.24" fill="#ffff00"/>
<rect x="361" y="204.56" width="24" height="5.24" fill="#ffef00"/>
<rect x="361" y="199.62" width="24" height="5.24" fill="#ffdf00"/>
<rect x="361" y="194.69" width="24" height="5.24" fill="#ffcf00"/>
<rect x="361" y="189.75" width="24" height="5.24" fill="#ffbf00"/>
<rect x="361" y="184.81" width="24" height="5.24" fill="#ffaf00"/>
<rect x="361" y="179.88" width="24" height="5.24" fill="#ff9f00"/>
<rect x="361" y="174.94" width="24" height="5.24" fill="#ff8f00"/>
<rect x="361" y="170.00" width="24" height="5.24" fill="#ff8000"/>
<rect x="361" y="165.06" width="24" height="5.24" fill="#ff7000"/>
<rect x="361" y="160.12" width="24" height="5.24" fill="#ff6000"/>
<rect x="361" y="155.19" width="24" height="5.24" fill="#ff5000"/>
<rect x="361" y="150.25" width="24" height="5.24" fill="#ff4000"/>
<rect x="361" y="145.31" width="24" height="5.24" fill="#ff3000"/>
<rect x="361" y="140.38" width="24" height="5.24" fill="#ff2000"/>
<rect x="361" y="135.44" width="24" height="5.24" fill="#ff1000"/>
<rect x="361" y="130.50" width="24" height="5.24" fill="#ff0000"/>
<rect x="361" y="125.56" width="24" height="5.24" fill="#ef0000"/>
<rect x="361" y="120.62" width="24" height="5.24" fill="#df0000"/>
<rect x="361" y="115.69" width="24" height="5.24" fill="#cf0000"/>
<rect x="361" y="110.75" width="24" height="5.24" fill="#bf0000"/>
<rect x="361" y="105.81" width="24" height="5.24" fill="#af0000"/>
<rect x="361" y="100.88" width="24" height="5.24" fill="#9f0000"/>
<rect x="361" y="95.94" width="24" height="5.24" fill="#8f0000"/>
<rect x="361" y="91.00" width="24" height="5.24" fill="#800000"/>
</g>
<g stroke="#000" stroke-width="1" fill="none" shape-rendering="crispEdges">
<rect x="360.5" y="90.5" width="24" height="316"/>
<line x1="360.0" y1="406.5" x2="363.0" y2="406.5"/>
<line x1="385.0" y1="406.5" x2="380.0" y2="406.5"/>
<line x1="360.0" y1="366.5" x2="363.0" y2="366.5"/>
<line x1="385.0" y1="366.5" x2="380.0" y2="366.5"/>
<line x1="360.0" y1="327.5" x2="363.0" y2="327.5"/>
<line x1="385.0" y1="327.5" x2="380.0" y2="327.5"/>
<line x1="360.0" y1="287.5" x2="363.0" y2="287.5"/>
<line x1="385.0" y1="287.5" x2="380.0" y2="287.5"/>
<line x1="360.0" y1="248.5" x2="363.0" y2="248.5"/>
<line x1="385.0" y1="248.5" x2="380.0" y2="248.5"/>
<line x1="360.0" y1="209.5" x2="363.0" y2="209.5"/>
<line x1="385.0" y1="209.5" x2="380.0" y2="209.5"/>
<line x1="360.0" y1="169.5" x2="363.0" y2="169.5"/>
<line x1="385.0" y1="169.5" x2="380.0" y2="169.5"/>
<line x1="360.0" y1="130.5" x2="363.0" y2="130.5"/>
<line x1="385.0" y1="130.5" x2="380.0" y2="130.5"/>
<line x1="360.0" y1="90.5" x2="363.0" y2="90.5"/>
<line x1="385.0" y1="90.5" x2="380.0" y2="90.5"/>
</g>
<text x="390.3" y="413.8">50</text>
<text x="390.3" y="374.4">100</text>
<text x="390.3" y="334.9">150</text>
<text x="390.3" y="295.4">200</text>
<text x="390.3" y="256.0">250</text>
<text x="390.3" y="216.6">300</text>
<text x="390.3" y="177.1">350</text>
<text x="390.3" y="137.6">400</text>
<text x="390.3" y="98.2">450</text>
<text x="469.7" y="827" text-anchor="middle">-75</text>
<text x="617.3" y="827" text-anchor="middle">-70</text>
<text x="764.9" y="827" text-anchor="middle">-65</text>
<text x="334" y="751.0" text-anchor="end">32</text>
<text x="334" y="674.0" text-anchor="end">34</text>
<text x="334" y="597.0" text-anchor="end">36</text>
<text x="334" y="520.0" text-anchor="end">38</text>
<text x="334" y="443.0" text-anchor="end">40</text>
<text x="334" y="366.0" text-anchor="end">42</text>
<text x="334" y="289.0" text-anchor="end">44</text>
<text x="334" y="212.0" text-anchor="end">46</text>
<text x="334" y="135.0" text-anchor="end">48</text>
<text x="362.5" y="43.3">Mean value depth 95-105m [O</text>
<text x="662.5" y="51.5" style="font-size:16px">2</text>
<text x="673.6" y="43.5">]</text>
<text x="684.6" y="43.5">mmol/m</text>
<text x="761.6" y="31.3" style="font-size:16px">3</text>
<text x="777.2" y="43.5">in August</text>
<text x="545.6" y="861.2">Longitude (</text>
<text x="658.6" y="848.8" style="font-size:16px">o</text>
<text x="669" y="861.2">E)</text>
<g transform="translate(296.2,500.3) rotate(-90)">
<text x="0" y="0">Latitude (</text>
<text x="93.5" y="-13.6" style="font-size:16px">o</text>
<text x="104.8" y="0">N)</text>
</g>
</svg>
</body></html>
